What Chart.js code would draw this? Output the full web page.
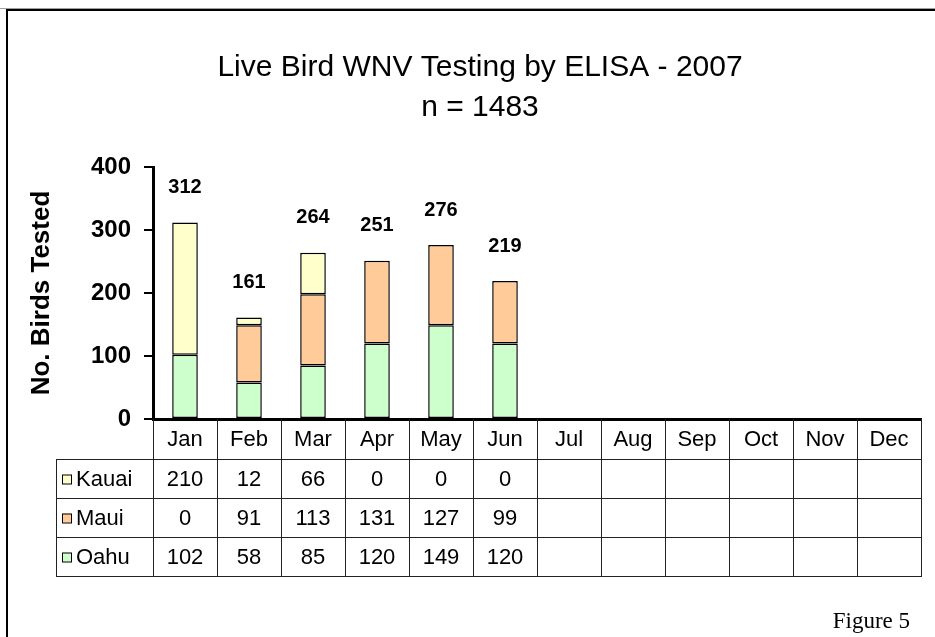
<!DOCTYPE html>
<html>
<head>
<meta charset="utf-8">
<script src="https://cdn.jsdelivr.net/npm/chart.js@4/dist/chart.umd.min.js"></script>
<style>
  html, body { margin: 0; padding: 0; background: #fff; }
  canvas { display: block; }
</style>
</head>
<body>
<canvas id="chart" width="935" height="637"></canvas>
<script>
// Data
const months = ['Jan', 'Feb', 'Mar', 'Apr', 'May', 'Jun', 'Jul', 'Aug', 'Sep', 'Oct', 'Nov', 'Dec']
const kauai = [210, 12, 66, 0, 0, 0, null, null, null, null, null, null]
const maui = [0, 91, 113, 131, 127, 99, null, null, null, null, null, null]
const oahu = [102, 58, 85, 120, 149, 120, null, null, null, null, null, null]
const yTicks = [0, 100, 200, 300, 400]
const titleLines = ['Live Bird WNV Testing by ELISA - 2007', 'n = 1483']

const SANS = '"Liberation Sans", Arial, sans-serif'

// table rows, top to bottom, as they appear under the axis
const tableRows = [
  { name: 'Kauai', values: kauai, color: '#FFFFCC' },
  { name: 'Maui', values: maui, color: '#FFCC99' },
  { name: 'Oahu', values: oahu, color: '#CCFFCC' }
]

const totals = months.map((m, i) =>
  oahu[i] == null ? null : oahu[i] + maui[i] + kauai[i])

const decorPlugin = {
  id: 'decor',
  afterDraw(chart) {
    const ctx = chart.ctx
    const x = chart.scales.x
    const y = chart.scales.y
    const catW = (x.right - x.left) / months.length

    ctx.save()

    // outer frame
    ctx.fillStyle = '#a0a0a0'
    ctx.fillRect(0, 8, 935, 1)
    ctx.fillStyle = '#000'
    ctx.fillRect(6, 9, 929, 2)
    ctx.fillRect(6, 9, 2, 628)

    // title
    ctx.fillStyle = '#000'
    ctx.textAlign = 'center'
    ctx.textBaseline = 'middle'
    ctx.font = '30px ' + SANS
    ctx.fillText(titleLines[0], 480, 68)
    ctx.fillText(titleLines[1], 480, 108)

    // totals above the stacks
    ctx.font = 'bold 20px ' + SANS
    totals.forEach((t, i) => {
      if (t == null) return
      ctx.fillText(String(t), x.getPixelForValue(i), y.getPixelForValue(t) - 35)
    })

    // data table
    const top = y.bottom
    const headerH = 40
    const rowH = 39
    const tableLeft = 56
    const bottom = top + headerH + rowH * tableRows.length

    ctx.strokeStyle = '#222'
    ctx.lineWidth = 1
    ctx.beginPath()
    for (let i = 0; i <= months.length; i++) {
      const px = Math.round(x.left + i * catW) + 0.5
      ctx.moveTo(px, top)
      ctx.lineTo(px, bottom)
    }
    ctx.moveTo(tableLeft + 0.5, top + headerH)
    ctx.lineTo(tableLeft + 0.5, bottom)
    for (let r = 0; r <= tableRows.length; r++) {
      const py = Math.round(top + headerH + r * rowH) + 0.5
      ctx.moveTo(tableLeft, py)
      ctx.lineTo(x.right + 1, py)
    }
    ctx.stroke()

    ctx.font = '22px ' + SANS
    ctx.fillStyle = '#000'
    ctx.textAlign = 'center'
    months.forEach((m, i) => {
      ctx.fillText(m, x.getPixelForValue(i), top + headerH / 2 + 1)
    })

    tableRows.forEach((row, r) => {
      const cy = top + headerH + r * rowH + rowH / 2 + 1
      // legend key
      ctx.fillStyle = row.color
      ctx.fillRect(62, cy - 5, 9, 9)
      ctx.strokeStyle = '#000'
      ctx.strokeRect(62.5, cy - 4.5, 9, 9)
      ctx.fillStyle = '#000'
      ctx.textAlign = 'left'
      ctx.fillText(row.name, 76, cy)
      ctx.textAlign = 'center'
      row.values.forEach((v, i) => {
        if (v == null) return
        ctx.fillText(String(v), x.getPixelForValue(i), cy)
      })
    })

    // figure label
    ctx.font = '23px "Liberation Serif", "Times New Roman", serif'
    ctx.textAlign = 'right'
    ctx.fillText('Figure 5', 910, 622)

    ctx.restore()
  }
}

const barStyle = {
  borderColor: '#000',
  borderWidth: 1.5,
  borderSkipped: false,
  barPercentage: 0.4,
  categoryPercentage: 1
}

new Chart(document.getElementById('chart').getContext('2d'), {
  type: 'bar',
  data: {
    labels: months,
    datasets: [
      { label: 'Oahu', data: oahu, backgroundColor: '#CCFFCC', ...barStyle },
      { label: 'Maui', data: maui, backgroundColor: '#FFCC99', ...barStyle },
      { label: 'Kauai', data: kauai, backgroundColor: '#FFFFCC', ...barStyle }
    ]
  },
  options: {
    responsive: false,
    animation: false,
    layout: {
      padding: { top: 167, bottom: 218, left: 0, right: 14 }
    },
    plugins: {
      legend: { display: false },
      title: { display: false },
      tooltip: { enabled: false }
    },
    scales: {
      x: {
        stacked: true,
        ticks: { display: false },
        grid: { display: false, drawTicks: false },
        border: { display: true, color: '#000', width: 3 },
        afterFit(scale) { scale.height = 0 }
      },
      y: {
        stacked: true,
        min: yTicks[0],
        max: yTicks[yTicks.length - 1],
        afterBuildTicks(scale) {
          scale.ticks = yTicks.map(v => ({ value: v }))
        },
        afterFit(scale) { scale.width = 153 },
        ticks: {
          color: '#000',
          padding: 13,
          font: { family: SANS, size: 24, weight: 'bold' }
        },
        grid: {
          display: true,
          drawOnChartArea: false,
          drawTicks: true,
          tickLength: 9,
          color: '#000',
          lineWidth: 2
        },
        border: { display: true, color: '#000', width: 3 },
        title: {
          display: true,
          text: 'No. Birds Tested',
          color: '#000',
          padding: { top: 26 },
          font: { family: SANS, size: 26, weight: 'bold' }
        }
      }
    }
  },
  plugins: [decorPlugin]
})
</script>
</body>
</html>
